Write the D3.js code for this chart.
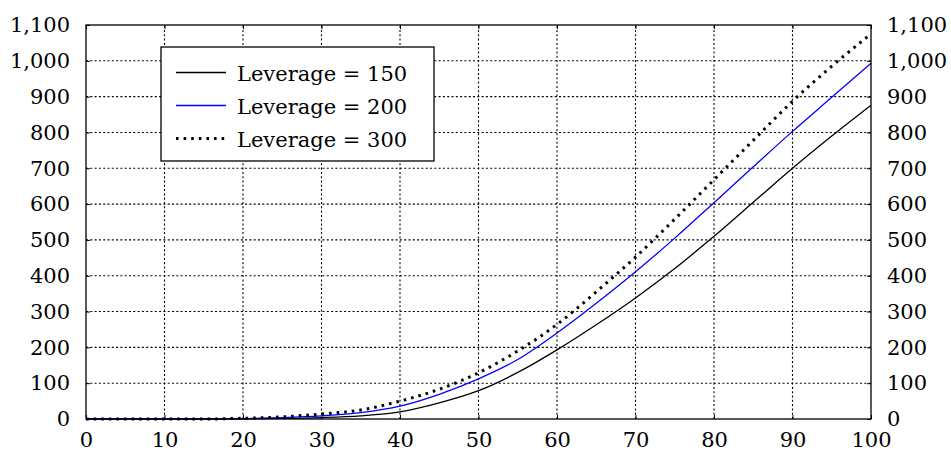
<!DOCTYPE html>
<html>
<head>
<meta charset="utf-8">
<script src="https://cdn.jsdelivr.net/npm/d3@7"></script>
<style>
  html, body { margin: 0; padding: 0; background: #fff; }
  svg text { fill: #000; }
</style>
</head>
<body>
<div id="chartArea"></div>
<script>
// values
const xValues = [0, 5, 10, 15, 20, 25, 30, 35, 40, 45, 50, 55, 60, 65, 70, 75, 80, 85, 90, 95, 100];
const lev150 = [0, 0, 0, 0, 0.5, 1.5, 4, 9, 20, 45, 79, 130, 193, 263, 338, 420, 510, 605, 700, 790, 876];
const lev200 = [0, 0, 0, 0, 1, 4, 9, 18, 36, 69, 112, 166, 240, 323, 411, 505, 604, 704, 803, 898, 993];
const lev300 = [0, 0, 0, 0, 2, 6, 14, 25, 50, 83, 129, 190, 264, 355, 452, 558, 668, 778, 887, 985, 1075];
const xTicks = [0, 10, 20, 30, 40, 50, 60, 70, 80, 90, 100];
const yTicks = [0, 100, 200, 300, 400, 500, 600, 700, 800, 900, 1000, 1100];
const seriesNames = ["Leverage = 150", "Leverage = 200", "Leverage = 300"];

const width = 951, height = 452;
const margin = {top: 25, right: 80, bottom: 33, left: 86};
const fontSize = 21;
const serif = '"DejaVu Serif", serif';

let svg = d3.select('#chartArea').append('svg')
   .attr('width', width)
   .attr('height', height)
   .attr('font-family', serif);

let x = d3.scaleLinear().domain([0, 100]).range([margin.left, width - margin.right]);
let y = d3.scaleLinear().domain([0, 1100]).range([height - margin.bottom, margin.top]);

// dotted grid
let grid = svg.append('g')
   .attr('stroke', '#000')
   .attr('stroke-width', 1.1)
   .attr('stroke-dasharray', '2,2.3');
grid.selectAll('line.gx').data(xTicks.slice(1, -1))
   .enter().append('line')
   .attr('x1', d => x(d)).attr('x2', d => x(d))
   .attr('y1', y(0)).attr('y2', y(1100));
grid.selectAll('line.gy').data(yTicks.slice(1, -1))
   .enter().append('line')
   .attr('x1', x(0)).attr('x2', x(100))
   .attr('y1', d => y(d)).attr('y2', d => y(d));

// axes, ticks pointing inwards
let fmt = d3.format(',');
let axes = [
   [d3.axisBottom(x).tickValues(xTicks).tickSize(-4).tickPadding(13), `translate(0,${y(0)})`, true],
   [d3.axisTop(x).tickValues(xTicks).tickSize(-4), `translate(0,${y(1100)})`, false],
   [d3.axisLeft(y).tickValues(yTicks).tickSize(-4).tickPadding(16).tickFormat(fmt), `translate(${x(0)},0)`, true],
   [d3.axisRight(y).tickValues(yTicks).tickSize(-4).tickPadding(16).tickFormat(fmt), `translate(${x(100)},0)`, true]
];
axes.forEach(([ax, tr, labels]) => {
   let g = svg.append('g').attr('transform', tr).call(ax);
   g.attr('font-family', serif).attr('font-size', fontSize);
   g.select('.domain').remove();
   g.selectAll('.tick line').attr('stroke', '#000').attr('stroke-width', 1);
   if (!labels) g.selectAll('text').remove();
});

// curves
let styles = [
   {color: '#000', width: 1.3, dash: null},
   {color: '#0000ff', width: 1.3, dash: null},
   {color: '#000', width: 3, dash: '2.6,5'}
];
let allSeries = [lev150, lev200, lev300];
let line = d3.line()
   .x((d, i) => x(xValues[i]))
   .y(d => y(d))
   .curve(d3.curveMonotoneX);

allSeries.forEach((s, k) => {
   svg.append('path')
      .datum(s)
      .attr('fill', 'none')
      .attr('stroke', styles[k].color)
      .attr('stroke-width', styles[k].width)
      .attr('stroke-dasharray', styles[k].dash)
      .attr('d', line);
});

// frame
svg.append('rect')
   .attr('x', x(0)).attr('y', y(1100))
   .attr('width', x(100) - x(0)).attr('height', y(0) - y(1100))
   .attr('fill', 'none').attr('stroke', '#000').attr('stroke-width', 1.3);

// legend
let legend = svg.append('g').attr('transform', 'translate(161,47)');
legend.append('rect')
   .attr('width', 273).attr('height', 114)
   .attr('fill', '#fff').attr('stroke', '#000').attr('stroke-width', 1.3);
seriesNames.forEach((name, k) => {
   let ry = 25.5 + k * 33;
   legend.append('line')
      .attr('x1', 15).attr('x2', 65)
      .attr('y1', ry).attr('y2', ry)
      .attr('stroke', styles[k].color)
      .attr('stroke-width', styles[k].width)
      .attr('stroke-dasharray', styles[k].dash);
   legend.append('text')
      .attr('x', 76).attr('y', ry + 8)
      .attr('font-size', fontSize)
      .text(name);
});
</script>
</body>
</html>
